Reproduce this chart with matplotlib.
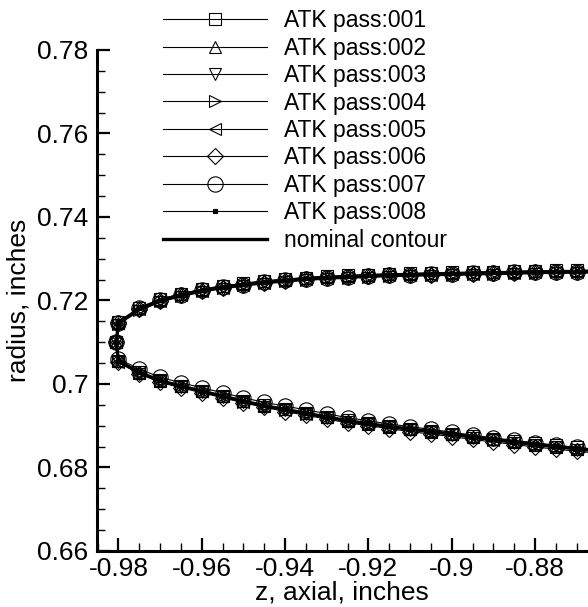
import matplotlib
matplotlib.use("Agg")
import matplotlib.pyplot as plt
from matplotlib.ticker import MultipleLocator, FuncFormatter

plt.rcParams['font.family'] = ['Liberation Sans', 'DejaVu Sans']

# axial stations (shared by both branches), inches
z_grid = [-0.980, -0.975, -0.970, -0.965, -0.960, -0.955, -0.950, -0.945,
          -0.940, -0.935, -0.930, -0.925, -0.920, -0.915, -0.910, -0.905,
          -0.900, -0.895, -0.890, -0.885, -0.880, -0.875, -0.870, -0.865]
z_nose = -0.9805
r_nose = 0.7100

# nominal contour
nom_upper = [0.7146, 0.7180, 0.7200, 0.7213, 0.7224, 0.7232, 0.7238, 0.7244,
             0.7248, 0.7252, 0.7255, 0.7257, 0.7259, 0.7261, 0.7262, 0.7263,
             0.7264, 0.7265, 0.7266, 0.7267, 0.7268, 0.7269, 0.7269, 0.7270]
nom_lower = [0.7055, 0.7028, 0.7008, 0.6995, 0.6983, 0.6971, 0.6959, 0.6948,
             0.6939, 0.6930, 0.6921, 0.6912, 0.6905, 0.6898, 0.6892, 0.6886,
             0.6880, 0.6873, 0.6867, 0.6861, 0.6855, 0.6850, 0.6845, 0.6840]

# measured passes
p1_upper = [0.7148, 0.7183, 0.7203, 0.7216, 0.7227, 0.7235, 0.7241, 0.7247,
            0.7251, 0.7255, 0.7258, 0.7260, 0.7262, 0.7264, 0.7265, 0.7266,
            0.7267, 0.7268, 0.7269, 0.7270, 0.7271, 0.7272, 0.7272, 0.7273]
p1_lower = [0.7056, 0.7029, 0.7009, 0.6996, 0.6984, 0.6972, 0.6960, 0.6949,
            0.6940, 0.6931, 0.6922, 0.6913, 0.6906, 0.6899, 0.6893, 0.6887,
            0.6881, 0.6875, 0.6869, 0.6863, 0.6858, 0.6853, 0.6848, 0.6843]
p2_upper = [0.7147, 0.7182, 0.7202, 0.7215, 0.7226, 0.7234, 0.7240, 0.7246,
            0.7250, 0.7254, 0.7257, 0.7259, 0.7261, 0.7263, 0.7264, 0.7265,
            0.7266, 0.7267, 0.7268, 0.7269, 0.7270, 0.7271, 0.7271, 0.7272]
p2_lower = [0.7054, 0.7027, 0.7008, 0.6995, 0.6983, 0.6971, 0.6959, 0.6948,
            0.6939, 0.6930, 0.6921, 0.6912, 0.6905, 0.6898, 0.6892, 0.6886,
            0.6880, 0.6873, 0.6867, 0.6861, 0.6855, 0.6850, 0.6845, 0.6840]
p3_upper = [0.7142, 0.7175, 0.7196, 0.7209, 0.7220, 0.7228, 0.7234, 0.7240,
            0.7244, 0.7248, 0.7251, 0.7253, 0.7255, 0.7257, 0.7258, 0.7259,
            0.7260, 0.7261, 0.7262, 0.7263, 0.7264, 0.7265, 0.7265, 0.7266]
p3_lower = [0.7052, 0.7025, 0.7006, 0.6993, 0.6981, 0.6969, 0.6957, 0.6946,
            0.6937, 0.6928, 0.6919, 0.6910, 0.6903, 0.6896, 0.6890, 0.6884,
            0.6878, 0.6871, 0.6865, 0.6859, 0.6853, 0.6848, 0.6843, 0.6838]
p4_upper = [0.7144, 0.7178, 0.7198, 0.7211, 0.7222, 0.7230, 0.7236, 0.7242,
            0.7246, 0.7250, 0.7253, 0.7255, 0.7257, 0.7259, 0.7260, 0.7261,
            0.7262, 0.7263, 0.7264, 0.7265, 0.7266, 0.7267, 0.7267, 0.7268]
p4_lower = [0.7054, 0.7027, 0.7007, 0.6994, 0.6982, 0.6970, 0.6958, 0.6947,
            0.6938, 0.6929, 0.6920, 0.6911, 0.6904, 0.6897, 0.6891, 0.6885,
            0.6879, 0.6872, 0.6866, 0.6860, 0.6854, 0.6849, 0.6844, 0.6839]
p5_upper = [0.7145, 0.7179, 0.7199, 0.7213, 0.7223, 0.7231, 0.7238, 0.7243,
            0.7248, 0.7251, 0.7255, 0.7256, 0.7259, 0.7260, 0.7262, 0.7262,
            0.7264, 0.7264, 0.7266, 0.7266, 0.7268, 0.7268, 0.7269, 0.7269]
p5_lower = [0.7053, 0.7027, 0.7007, 0.6994, 0.6982, 0.6970, 0.6958, 0.6947,
            0.6938, 0.6929, 0.6920, 0.6911, 0.6904, 0.6897, 0.6891, 0.6885,
            0.6879, 0.6872, 0.6866, 0.6860, 0.6854, 0.6849, 0.6844, 0.6839]
p6_upper = [0.7145, 0.7179, 0.7199, 0.7212, 0.7223, 0.7231, 0.7237, 0.7243,
            0.7247, 0.7251, 0.7254, 0.7256, 0.7258, 0.7260, 0.7261, 0.7262,
            0.7263, 0.7264, 0.7265, 0.7266, 0.7267, 0.7268, 0.7268, 0.7269]
p6_lower = [0.7052, 0.7024, 0.7004, 0.6991, 0.6979, 0.6967, 0.6955, 0.6944,
            0.6934, 0.6925, 0.6916, 0.6907, 0.6900, 0.6893, 0.6886, 0.6880,
            0.6874, 0.6867, 0.6861, 0.6855, 0.6849, 0.6844, 0.6839, 0.6834]
p7_upper = [0.7147, 0.7181, 0.7201, 0.7214, 0.7224, 0.7232, 0.7238, 0.7244,
            0.7248, 0.7252, 0.7255, 0.7257, 0.7259, 0.7261, 0.7262, 0.7263,
            0.7264, 0.7265, 0.7266, 0.7267, 0.7268, 0.7269, 0.7269, 0.7270]
p7_lower = [0.7060, 0.7036, 0.7016, 0.7003, 0.6991, 0.6979, 0.6967, 0.6956,
            0.6947, 0.6938, 0.6929, 0.6919, 0.6912, 0.6904, 0.6898, 0.6891,
            0.6885, 0.6877, 0.6871, 0.6865, 0.6859, 0.6853, 0.6848, 0.6843]
p8_upper = [0.7147, 0.7181, 0.7201, 0.7214, 0.7225, 0.7233, 0.7239, 0.7245,
            0.7249, 0.7253, 0.7256, 0.7258, 0.7260, 0.7262, 0.7263, 0.7264,
            0.7265, 0.7266, 0.7267, 0.7268, 0.7269, 0.7270, 0.7270, 0.7271]
p8_lower = [0.7056, 0.7029, 0.7009, 0.6996, 0.6984, 0.6972, 0.6960, 0.6949,
            0.6940, 0.6931, 0.6922, 0.6913, 0.6906, 0.6899, 0.6893, 0.6887,
            0.6881, 0.6874, 0.6868, 0.6862, 0.6856, 0.6851, 0.6846, 0.6841]

passes = [
    ("ATK pass:001", p1_upper, p1_lower, "s", 8.0),
    ("ATK pass:002", p2_upper, p2_lower, "^", 9.0),
    ("ATK pass:003", p3_upper, p3_lower, "v", 9.0),
    ("ATK pass:004", p4_upper, p4_lower, ">", 9.0),
    ("ATK pass:005", p5_upper, p5_lower, "<", 9.0),
    ("ATK pass:006", p6_upper, p6_lower, "D", 8.0),
    ("ATK pass:007", p7_upper, p7_lower, "o", 11.0),
    ("ATK pass:008", p8_upper, p8_lower, "s", 3.5),
]


def contour(upper, lower):
    # one continuous line: lower branch right->left, round the nose, upper branch left->right
    zz = z_grid[::-1] + [z_nose] + z_grid
    rr = lower[::-1] + [r_nose] + upper
    return zz, rr


fig = plt.figure(figsize=(5.88, 6.07), dpi=100)
ax = fig.add_axes([0.1645, 0.0923, 0.8355, 0.8254])

for label, up, lo, mk, ms in passes:
    zz, rr = contour(up, lo)
    filled = label.endswith("008")
    ax.plot(zz, rr, color="black", lw=0.8, marker=mk, ms=ms,
            mfc="black" if filled else "none", mec="black", mew=0.8,
            label=label)

zz, rr = contour(nom_upper, nom_lower)
ax.plot(zz, rr, color="black", lw=2.4, label="nominal contour")

ax.set_xlim(-0.9852, -0.8673)
ax.set_ylim(0.66, 0.78)
ax.xaxis.set_major_locator(MultipleLocator(0.02))
ax.xaxis.set_minor_locator(MultipleLocator(0.005))
ax.yaxis.set_major_locator(MultipleLocator(0.02))
ax.yaxis.set_minor_locator(MultipleLocator(0.005))
fmt = FuncFormatter(lambda v, p: "%g" % round(v, 4))
ax.xaxis.set_major_formatter(fmt)
ax.yaxis.set_major_formatter(fmt)

ax.spines["top"].set_visible(False)
ax.spines["right"].set_visible(False)
ax.spines["left"].set_linewidth(2.2)
ax.spines["bottom"].set_linewidth(2.2)
ax.tick_params(which="major", direction="in", length=9.5, width=1.6,
               labelsize=19, pad=4)
ax.tick_params(which="minor", direction="in", length=5.5, width=1.0)
ax.tick_params(axis="y", pad=6)

ax.set_xlabel("z, axial, inches", fontsize=19, labelpad=0)
ax.set_ylabel("radius, inches", fontsize=19, labelpad=5)

leg = fig.legend(loc="upper left", bbox_to_anchor=(163 / 588, 0.985),
                 frameon=False, fontsize=16.5, handlelength=4.55,
                 handletextpad=0.72, labelspacing=0.195, borderpad=0,
                 borderaxespad=0)

fig.savefig("out.png", dpi=100)
